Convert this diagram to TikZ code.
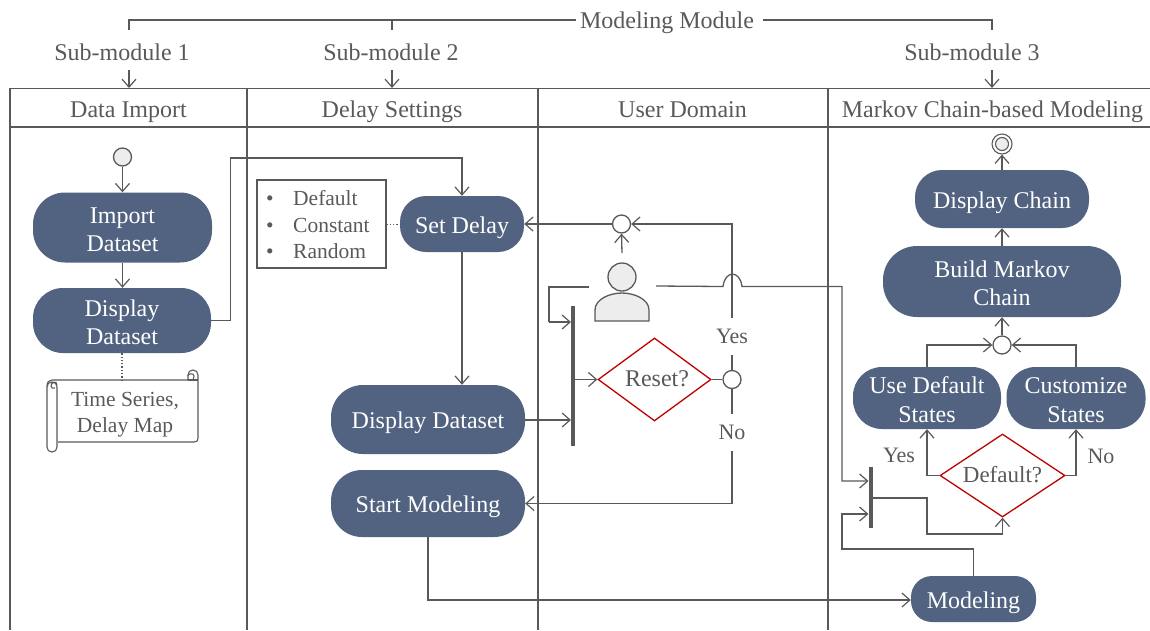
\documentclass[tikz,border=0pt]{standalone}
\usepackage{fontspec}
\setmainfont{Liberation Serif}
\usetikzlibrary{arrows.meta,shapes.geometric,calc}
\definecolor{ln}{HTML}{595959}
\definecolor{act}{HTML}{526381}
\definecolor{dec}{HTML}{C00000}
\definecolor{pale}{HTML}{EDEDED}
\newcommand{\stt}{\rule[-6pt]{0pt}{30pt}}
\newcommand{\topst}{\rule{0pt}{20pt}}
\tikzset{
  x=1pt,y=-1pt,
  conn/.style={draw=ln,line width=1.3pt,-{Straight Barb[length=8pt,width=14pt,line width=1.2pt]}},
  plain/.style={draw=ln,line width=1.3pt},
  lane/.style={draw=ln,line width=1.6pt},
  lbl/.style={execute at begin node=\stt,text=ln,font=\fontsize{24}{28.5}\selectfont,align=center,inner sep=0pt},
  small/.style={text=ln,font=\fontsize{21.5}{26.5}\selectfont,align=center,inner sep=0pt},
  yn/.style={text=ln,font=\fontsize{22}{26}\selectfont,inner sep=0pt},
  activity/.style={fill=act,text=white,font=\fontsize{24}{28.5}\selectfont,align=center,inner sep=0pt},
  oneline/.style={activity,execute at begin node=\stt},
  decision/.style={diamond,draw=dec,line width=1.3pt,fill=white,text=ln,inner sep=0pt,font=\fontsize{24}{28}\selectfont},
  gate/.style={circle,draw=ln,line width=1.3pt,fill=white,minimum size=18pt,inner sep=0pt},
  startnode/.style={circle,draw=ln,line width=1.3pt,fill=pale,minimum size=18pt,inner sep=0pt},
  syncbar/.style={fill=ln,inner sep=0pt,minimum width=4pt},
}
\begin{document}
\begin{tikzpicture}
\useasboundingbox (0,0) rectangle (1150,630);
% swimlanes
\draw[lane] (1150,88.5) -- (10,88.5) -- (10,630);
\draw[lane] (10,127) -- (1150,127);
\draw[lane] (247,88.5) -- (247,630);
\draw[lane] (537.7,88.5) -- (537.7,630);
\draw[lane] (828,88.5) -- (828,630);
\node[lbl] (h1) at (128.5,108.5) {Data Import};
\node[lbl] (h2) at (392,108.5) {Delay Settings};
\node[lbl] (h3) at (682.5,108.5) {User Domain};
\node[lbl] (h4) at (992.5,108.5) {Markov Chain-based Modeling};
% top bracket
\node[lbl] (mm) at (667,19.5) {Modeling Module};
\node[lbl] (sm1) at (122,51) {Sub-module 1};
\node[lbl] (sm2) at (391,51) {Sub-module 2};
\node[lbl] (sm3) at (972,51) {Sub-module 3};
\coordinate (mml) at (576,20);
\coordinate (mmr) at (763,20);
\coordinate (b1) at (129,30);
\coordinate (b2) at (392,30);
\coordinate (b3) at (992,30);
\coordinate (a1s) at (129,70);
\coordinate (a2s) at (392,70);
\coordinate (a3s) at (992,70);
\coordinate (a1e) at (129,88);
\coordinate (a2e) at (392,88);
\coordinate (a3e) at (992,88);
\draw[plain] (b1) |- (mml);
\draw[plain] (b2) -- (b2 |- mml);
\draw[plain] (mmr) -| (b3);
\draw[conn] (a1s) -- (a1e);
\draw[conn] (a2s) -- (a2e);
\draw[conn] (a3s) -- (a3e);
% activities
\node[startnode] (start) at (122.5,157) {};
\node[activity,minimum width=179pt,minimum height=70pt,rounded corners=32pt] (import) at (122.5,227.5) {\topst Import\\Dataset};
\node[activity,minimum width=178pt,minimum height=65pt,rounded corners=30pt] (disp) at (122,320.5) {\topst Display\\Dataset};
\node[oneline,minimum width=124pt,minimum height=56pt,rounded corners=26pt] (setdelay) at (462,224) {Set Delay};
\node[draw=ln,line width=1.1pt,minimum width=129pt,minimum height=88pt,inner sep=0pt] (opts) at (321.5,224) {};
\node[small,anchor=west,align=left] (optlist) at (263,225) {\makebox[30pt][l]{\hspace{3pt}•}Default\\\makebox[30pt][l]{\hspace{3pt}•}Constant\\\makebox[30pt][l]{\hspace{3pt}•}Random};
\node[oneline,minimum width=194pt,minimum height=69pt,rounded corners=32pt] (disp2) at (428,419.5) {Display Dataset};
\node[oneline,minimum width=194pt,minimum height=67pt,rounded corners=31pt] (startm) at (428,503.5) {Start Modeling};
\node[oneline,minimum width=174pt,minimum height=58pt,rounded corners=27pt] (dchain) at (1002,199) {Display Chain};
\node[activity,minimum width=238pt,minimum height=71pt,rounded corners=34pt] (build) at (1002,281.5) {\topst Build Markov\\Chain};
\node[activity,minimum width=148pt,minimum height=62pt,rounded corners=29pt] (usedef) at (927,398) {\topst Use Default\\States};
\node[activity,minimum width=139pt,minimum height=62pt,rounded corners=29pt] (custom) at (1076,398) {\topst Customize\\States};
\node[oneline,minimum width=125pt,minimum height=46pt,rounded corners=21pt] (modeling) at (973.5,599) {Modeling};
% decisions
\node[decision,minimum width=113pt,minimum height=83pt] (reset) at (654.5,379.5) {};
\node[lbl] (resett) at (657,377.5) {Reset?};
\node[decision,minimum width=125pt,minimum height=83pt] (default) at (1002.5,475.5) {};
\node[text=ln,font=\fontsize{23}{28}\selectfont,inner sep=0pt] (defaultt) at (1002.5,475) {Default?};
% gates
\node[gate] (g1) at (621.5,224) {};
\node[gate] (g2) at (732,379.5) {};
\node[gate] (g3) at (1002,345) {};
\node[circle,draw=ln,line width=1.1pt,fill=white,minimum size=20pt,inner sep=0pt] (endo) at (1002,144) {};
\node[circle,draw=ln,line width=1.1pt,fill=pale,minimum size=13pt,inner sep=0pt] (endi) at (1002,144) {};
% bars
\node[syncbar,minimum height=140pt] (bar1) at (572.7,376) {};
\node[syncbar,minimum height=61pt] (bar2) at (870.5,497.5) {};
% labels on edges
\node[yn,minimum height=37pt] (yes1) at (732,336.5) {Yes};
\node[yn,minimum height=37pt] (no1) at (732,432.5) {No};
\node[yn] (yes2) at (899,455) {Yes};
\node[yn] (no2) at (1101,456) {No};
% user
\node[circle,draw=ln,line width=1.3pt,fill=pale,minimum size=28pt,inner sep=0pt] (head) at (622,277) {};
\draw[plain,fill=pale] (595,321) -- (595,310) .. controls (595,299) and (610,293) .. (622,293) .. controls (634,293) and (649,299) .. (649,310) -- (649,321) -- cycle;
\coordinate (utop) at (622,253);
\coordinate (uleft) at (589,287);
\coordinate (uright) at (656,286);
% note
\node[small] (note) at (125,414.5) {Time Series,\\Delay Map};
\coordinate (notetop) at (122,380);
\draw[draw=ln,line width=1.1pt,line join=round]
  (58,442) -- (194,442) .. controls (197,442) and (198,441) .. (198,438) -- (198,375)
  .. controls (198,372) and (196,370) .. (193,370) .. controls (190,370) and (188,372) .. (188,375) -- (188,380) -- (52,380)
  .. controls (49,380) and (47,382) .. (47,386) -- (47,447) .. controls (47,450) and (49,452) .. (52,452) .. controls (55,452) and (57,450) .. (57,447) -- (57,387)
  .. controls (57,384) and (55,382) .. (52,382) .. controls (49,382) and (47,384) .. (47,387);
\draw[draw=ln,line width=1.1pt] (57,385) .. controls (57,380) and (51,382) .. (51,386) .. controls (51,388) and (53,389) .. (55,388);
\draw[draw=ln,line width=1.1pt] (188,380) -- (198,380);
\draw[draw=ln,line width=1.1pt] (188,376) .. controls (188,373) and (194,373) .. (194,376) .. controls (194,378) and (193,379) .. (193,380);
% connectors
\draw[conn] (start) -- (import);
\draw[conn] (122.5,262.5) -- (disp.north -| 122.5,0);
\draw[plain,dotted] (disp.south) -- (notetop);
\coordinate (c1) at (230.5,158);
\draw[conn] (disp.east) -| (c1) -| (setdelay.north);
\draw[plain,dotted,line width=1pt] (opts.east) -- (setdelay.west);
\draw[conn] (setdelay.south) -- (setdelay.south |- disp2.north);
\draw[conn] (disp2.east |- 0,420) -- (571,420);
\draw[conn] (g1.west) -- (setdelay.east);
\draw[conn] (utop) -- (g1.south);
\draw[conn] (yes1.north) |- (g1.east);
\draw[plain] (g2.north) -- (yes1.south);
\draw[plain] (g2.south) -- (no1.north);
\draw[conn] (no1.south) |- (startm.east);
\draw[plain] (reset.east) -- (g2.west);
\draw[conn] (572.7,379.5) -- (reset.west);
\coordinate (u1) at (549,322);
\draw[plain] (uleft) -| (u1);
\draw[conn] (u1) -- (571,322);
\coordinate (hopl) at (723,286.5);
\coordinate (hopr) at (742,286.5);
\coordinate (c2) at (842,481);
\draw[conn] (uright) -- (hopl) .. controls (725,270) and (740,270) .. (hopr) -| (c2) -- (868.5,481);
\draw[conn] (dchain.north) -- (endo.south);
\draw[conn] (build.north) -- (dchain.south);
\draw[conn] (g3.north) -- (build.south);
\draw[conn] (usedef.north) |- (g3.west);
\draw[conn] (custom.north) |- (g3.east);
\draw[conn] (default.west) -| (usedef.south);
\draw[conn] (default.east) -| (custom.south);
\coordinate (c3) at (927,534);
\draw[conn] (872.5,498) -| (c3) -| (default.south);
\coordinate (c4) at (842,549);
\draw[conn] (modeling.north) |- (c4) |- (868.5,514);
\coordinate (c5) at (428,600);
\draw[conn] (startm.south) -- (c5) -- (modeling.west |- c5);
\end{tikzpicture}
\end{document}
